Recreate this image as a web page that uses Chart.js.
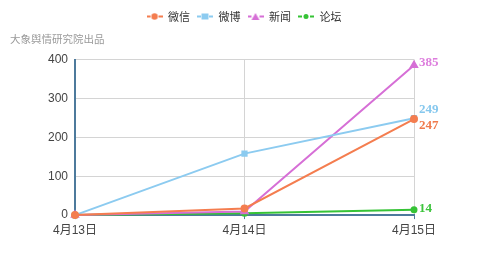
<!DOCTYPE html>
<html>
<head>
<meta charset="utf-8">
<script src="https://cdn.jsdelivr.net/npm/chart.js@4/dist/chart.umd.min.js"></script>
<style>
  html, body { margin: 0; padding: 0; background: #fff; }
  #wrap { width: 488px; height: 261px; position: relative; }
</style>
</head>
<body>
<div id="wrap"><canvas id="c" width="488" height="261"></canvas></div>
<script>
// Daily mention counts by channel
const days = ['4月13日', '4月14日', '4月15日'];
const weixin = [0, 17, 247];
const weibo = [0, 158, 249];
const news = [0, 9, 385];
const forum = [0, 5, 14];
const seriesNames = ['微信', '微博', '新闻', '论坛'];
const yTicks = [0, 100, 200, 300, 400];

const colors = ['#f47d4f', '#8ccbf0', '#d66fd6', '#36c336'];
const labelColors = ['#f07a4c', '#86c8ee', '#dd7ddd', '#3cc43c'];
const styles = ['circle', 'rect', 'triangle', 'circle'];
const radii = [3, 3, 3.5, 2.5];
const labelOffsets = [7, -9, -3, -1];

const fontFamily = '"Liberation Sans", "Noto Sans CJK SC", sans-serif';

// Legend swatch: short dashes on both sides of the marker
function swatch(color, style) {
  const cv = document.createElement('canvas');
  cv.width = 16; cv.height = 9;
  const g = cv.getContext('2d');
  g.strokeStyle = color; g.lineWidth = 2;
  g.beginPath(); g.moveTo(0, 4.5); g.lineTo(4, 4.5); g.moveTo(12, 4.5); g.lineTo(16, 4.5); g.stroke();
  g.fillStyle = color;
  g.beginPath();
  if (style === 'rect') g.rect(4.5, 1.5, 7, 6);
  else if (style === 'triangle') { g.moveTo(8, 1); g.lineTo(12, 8); g.lineTo(4, 8); g.closePath(); }
  else g.arc(8, 4.5, style === 'small' ? 2.5 : 3.2, 0, Math.PI * 2);
  g.fill();
  return cv;
}

const series = [weixin, weibo, news, forum];
const datasets = series.map((vals, i) => ({
  label: seriesNames[i],
  data: vals,
  borderColor: colors[i],
  backgroundColor: colors[i],
  borderWidth: 2,
  pointStyle: styles[i],
  pointRadius: radii[i],
  pointHoverRadius: radii[i],
  tension: 0,
  clip: false
}));

const swatches = [swatch(colors[0], 'circle'), swatch(colors[1], 'rect'), swatch(colors[2], 'triangle'), swatch(colors[3], 'small')];

// Extra room between the legend row and the plot
const legendSpacer = {
  id: 'legendSpacer',
  beforeInit(chart) {
    const fit = chart.legend.fit;
    chart.legend.fit = function () {
      fit.call(this);
      this.height += 27.5;
    };
  }
};

// Value labels at the last point of each series
const endLabels = {
  id: 'endLabels',
  afterDatasetsDraw(chart) {
    const ctx = chart.ctx;
    ctx.save();
    ctx.font = 'bold 13px "Liberation Serif", serif';
    ctx.textBaseline = 'middle';
    ctx.textAlign = 'left';
    chart.data.datasets.forEach((ds, i) => {
      const meta = chart.getDatasetMeta(i);
      const last = meta.data[meta.data.length - 1];
      ctx.fillStyle = labelColors[i];
      ctx.fillText(String(ds.data[ds.data.length - 1]), last.x + 5, last.y + labelOffsets[i]);
    });
    ctx.restore();
  }
};

// Publisher caption under the legend
const caption = {
  id: 'caption',
  afterDraw(chart) {
    const ctx = chart.ctx;
    ctx.save();
    ctx.font = '10.5px "Noto Sans CJK SC", sans-serif';
    ctx.fillStyle = '#9a9a9a';
    ctx.textBaseline = 'middle';
    ctx.fillText('大象舆情研究院出品', 10, 39);
    ctx.restore();
  }
};

new Chart(document.getElementById('c'), {
  type: 'line',
  data: { labels: days, datasets },
  plugins: [legendSpacer, endLabels, caption],
  options: {
    responsive: false,
    animation: false,
    devicePixelRatio: 1,
    layout: { padding: { top: 4, right: 0, left: 0, bottom: 19.5 } },
    plugins: {
      tooltip: { enabled: false },
      legend: {
        display: true,
        position: 'top',
        labels: {
          usePointStyle: true,
          pointStyleWidth: 16,
          boxHeight: 9,
          padding: 7,
          color: '#333',
          font: { size: 11, family: '"Noto Sans CJK SC", sans-serif' },
          generateLabels(chart) {
            return chart.data.datasets.map((ds, i) => ({
              text: ds.label,
              pointStyle: swatches[i],
              fillStyle: ds.borderColor,
              strokeStyle: ds.borderColor,
              lineWidth: 0,
              fontColor: '#333',
              hidden: false,
              datasetIndex: i
            }));
          }
        }
      }
    },
    scales: {
      x: {
        offset: false,
        grid: { color: '#d4d4d4', drawTicks: true, tickLength: 4, tickColor: '#4d7a9c' },
        border: { color: '#4d7a9c', width: 2 },
        ticks: { color: '#444', font: { size: 12, family: fontFamily }, maxRotation: 0, padding: 4 }
      },
      y: {
        min: 0,
        max: 400,
        afterBuildTicks(scale) { scale.ticks = yTicks.map(v => ({ value: v })); },
        afterFit(scale) { scale.width = 75; },
        grid: { color: '#d4d4d4', drawTicks: false },
        border: { color: '#4d7a9c', width: 2 },
        ticks: { color: '#444', font: { size: 12, family: fontFamily }, padding: 7 }
      },
      // empty right-hand gutter that holds the end-of-line value labels
      gutter: {
        type: 'linear',
        position: 'right',
        display: true,
        min: 0,
        max: 400,
        afterFit(scale) { scale.width = 74; },
        grid: { display: false, drawTicks: false },
        border: { display: false },
        ticks: { display: false }
      }
    }
  }
});
</script>
</body>
</html>
